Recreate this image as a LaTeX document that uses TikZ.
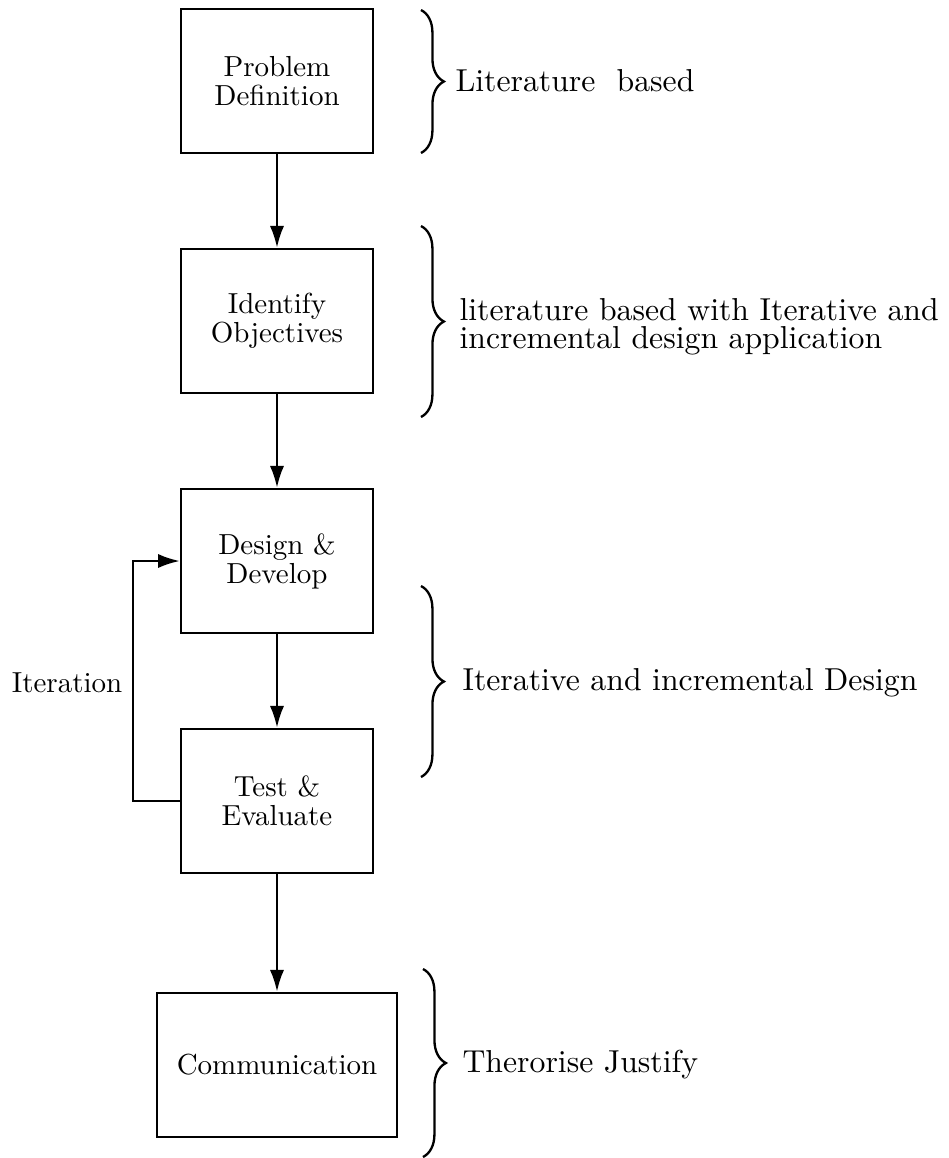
\documentclass[tikz,border=0pt]{standalone}
\usetikzlibrary{arrows.meta,decorations.pathreplacing}
\begin{document}
\begin{tikzpicture}[x=0.345pt,y=-0.345pt,
  box/.style={draw, line width=0.9pt, minimum width=66.2pt, minimum height=49.7pt,
    inner sep=0pt, align=center, font=\fontsize{10}{10}\selectfont},
  arr/.style={line width=0.8pt, -{Latex[length=7.5pt,width=4.9pt]}},
  bracepath/.style={line width=0.8pt, decorate, decoration={brace, amplitude=7.9pt, aspect=0.5}},
  side/.style={anchor=west, inner sep=0pt, align=left, font=\fontsize{10.95}{9.6}\selectfont},
  lbl/.style={inner sep=0pt, font=\fontsize{10}{10}\selectfont}]
\useasboundingbox (0,0) rectangle (949,1158);

\node[box] (pd) at (277,81) {Problem\\Definition};
\node[box] (io) at (277,321) {Identify\\Objectives};
\node[box] (dd) at (277,561) {Design \&\\Develop};
\node[box] (te) at (277,801) {Test \&\\Evaluate};
\node[box, minimum width=82.8pt] (co) at (277,1065) {Communication};

\draw[arr] (pd) -- (io);
\draw[arr] (io) -- (dd);
\draw[arr] (dd) -- (te);
\draw[arr] (te) -- (co);

\coordinate (lp) at (133,681);
\draw[arr] (te.west) -| (lp) |- (dd.west);
\node[lbl] (it) at (67,683) {Iteration};

\coordinate (b1t) at (421,10);   \coordinate (b1b) at (421,153);
\coordinate (b2t) at (421,226);  \coordinate (b2b) at (421,417);
\coordinate (b3t) at (421,586);  \coordinate (b3b) at (421,777);
\coordinate (b4t) at (423,969);  \coordinate (b4b) at (423,1157);
\draw[bracepath] (b1t) -- (b1b);
\draw[bracepath] (b2t) -- (b2b);
\draw[bracepath] (b3t) -- (b3b);
\draw[bracepath] (b4t) -- (b4b);

\node[side] (t1) at (455,81) {Literature\ \ based};
\node[side] (t2) at (459,327) {literature based with Iterative and\\incremental design application};
\node[side] (t3) at (462,683) {Iterative and incremental Design};
\node[side] (t4) at (462,1065) {Therorise Justify};
\end{tikzpicture}
\end{document}
